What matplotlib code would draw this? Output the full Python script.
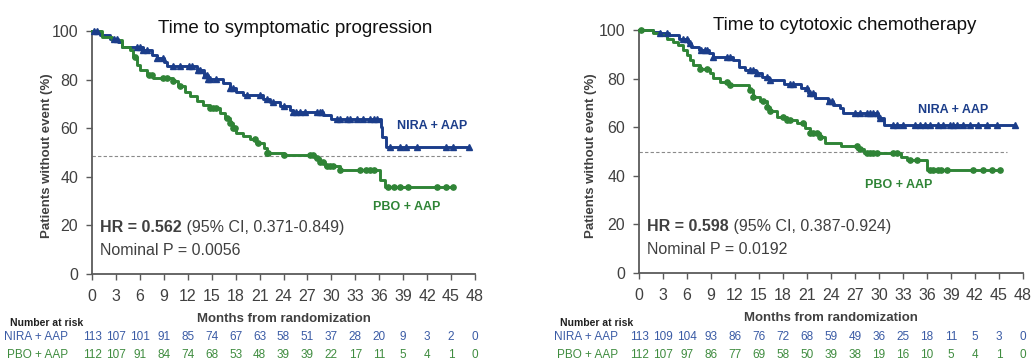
import numpy as np
import matplotlib.pyplot as plt
from matplotlib import font_manager
from matplotlib.transforms import blended_transform_factory

plt.rcParams['font.family'] = ['Liberation Sans', 'DejaVu Sans']

_names = {f.name for f in font_manager.fontManager.ttflist}
NARROW = 'Liberation Sans Narrow' if 'Liberation Sans Narrow' in _names else 'Liberation Sans'

BLUE = '#1b3d8a'
GREEN = '#2f8436'
RISK_BLUE = '#3a5ba5'
RISK_GREEN = '#3f8c3f'
GREY = '#404040'

months_ticks = list(range(0, 49, 3))

# --- Time to symptomatic progression ---
sp_nira_t = [0, 1.0, 2.2, 3.3, 3.7, 6.4, 7.5, 8.1, 9.0, 9.4, 13.2, 14.0, 14.6, 16.4, 17.3, 18.1,
             18.9, 21.4, 22.3, 23.5, 24.8, 25.2, 29.0, 29.9, 36.2, 36.4, 36.8, 47.3]
sp_nira_s = [100, 98.3, 96.9, 95.5, 93.5, 92.2, 90.1, 88.8, 87.4, 85.6, 84.0, 82.0, 80.2, 78.5, 76.5, 75.1,
             73.7, 71.9, 70.6, 69.2, 67.6, 66.5, 65.5, 63.6, 60.6, 56.5, 52.4, 52.4]
sp_nira_cens = [0.2, 0.6, 2.7, 3.1, 5.6, 6.0, 6.4, 6.9, 8.1, 8.9, 10.2, 11.0, 12.1, 12.5, 13.3, 13.5, 14.2,
                14.4, 14.6, 14.8, 15.6, 17.3, 17.7, 19.4, 21.1, 21.9, 22.7, 24.0, 25.2, 25.6, 26.1, 26.7,
                28.2, 28.6, 28.8, 30.7, 31.1, 31.9, 32.3, 33.2, 34.0, 34.8, 35.3, 35.7, 37.3, 38.6, 39.4,
                40.7, 44.4, 45.3, 47.2]
sp_pbo_t = [0, 1.2, 2.5, 3.7, 4.8, 5.2, 5.6, 6.0, 6.9, 7.7, 10.2, 10.8, 11.7, 12.3, 13.1, 13.9, 14.8,
            16.1, 16.7, 17.3, 17.7, 18.1, 18.9, 19.8, 20.6, 21.5, 21.9, 24.0, 27.9, 28.6, 29.2, 31.1,
            36.1, 36.7, 45.3]
sp_pbo_s = [100, 97.4, 96.1, 93.5, 92.2, 89.3, 86.0, 84.0, 82.0, 80.7, 79.3, 77.3, 75.1, 73.1, 71.0, 69.7,
            68.3, 66.1, 64.1, 62.2, 60.1, 58.1, 56.7, 55.4, 54.1, 52.0, 50.0, 49.0, 47.6, 46.0, 44.6, 42.6,
            38.5, 35.8, 35.8]
sp_pbo_cens = [5.4, 7.1, 7.5, 8.9, 9.4, 10.2, 11.0, 14.8, 15.2, 15.6, 16.9, 17.3, 17.7, 17.9, 20.4, 20.8,
               21.9, 22.1, 24.0, 27.3, 27.7, 28.2, 28.6, 29.0, 29.4, 29.8, 30.2, 31.1, 33.6, 34.4, 34.8,
               35.3, 37.1, 37.8, 38.6, 39.6, 43.2, 44.4, 45.3]
sp_risk_nira = [113, 107, 101, 91, 85, 74, 67, 63, 58, 51, 37, 28, 20, 9, 3, 2, 0]
sp_risk_pbo = [112, 107, 91, 84, 74, 68, 53, 48, 39, 39, 22, 17, 11, 5, 4, 1, 0]

# --- Time to cytotoxic chemotherapy ---
cc_nira_t = [0, 1.8, 2.6, 3.8, 5.0, 6.1, 6.5, 7.5, 8.8, 9.2, 11.7, 12.5, 13.3, 14.6, 15.4, 16.3, 18.1,
             20.3, 21.1, 22.0, 23.6, 24.3, 25.1, 25.5, 29.9, 30.6, 47.0]
cc_nira_s = [100, 99.3, 98.6, 97.9, 96.5, 94.8, 93.1, 91.8, 90.4, 89.0, 87.7, 84.9, 83.5, 82.2, 80.8, 79.4,
             77.8, 76.0, 74.0, 71.9, 70.6, 69.2, 67.9, 65.8, 63.8, 61.0, 61.0]
cc_nira_cens = [2.6, 3.5, 5.5, 6.0, 6.4, 7.8, 8.3, 8.5, 9.3, 11.0, 11.4, 13.9, 14.3, 14.7, 16.0, 16.4,
                18.9, 19.3, 21.0, 21.4, 21.8, 23.7, 24.1, 27.0, 27.6, 28.5, 28.9, 29.3, 29.7, 30.1, 31.8,
                32.2, 33.0, 34.5, 35.1, 35.8, 36.4, 37.4, 38.0, 38.9, 39.3, 39.7, 40.5, 41.4, 42.4, 43.5,
                44.7, 47.0]
cc_pbo_t = [0, 1.8, 2.6, 3.5, 4.3, 4.9, 5.5, 6.0, 6.4, 6.8, 7.6, 8.9, 9.3, 10.1, 11.2, 13.7, 14.3, 15.1,
            16.0, 16.4, 17.2, 18.5, 19.7, 20.8, 21.4, 22.6, 23.3, 25.2, 27.3, 28.1, 32.7, 33.5, 36.0, 45.1]
cc_pbo_s = [100, 98.6, 97.9, 96.5, 95.1, 93.8, 91.8, 89.6, 87.6, 85.5, 84.1, 82.2, 80.1, 78.7, 77.4, 75.3,
            72.6, 70.6, 68.5, 66.5, 64.4, 63.0, 61.6, 59.5, 57.5, 56.1, 53.4, 52.1, 51.0, 49.3, 47.9, 46.3,
            42.4, 42.4]
cc_pbo_cens = [0.3, 7.6, 8.5, 11.0, 11.4, 13.9, 14.3, 15.5, 16.0, 16.4, 18.0, 18.5, 18.9, 20.5, 21.4, 21.8,
               22.2, 22.6, 27.2, 27.6, 28.5, 28.9, 29.3, 29.7, 31.8, 32.2, 33.9, 34.7, 36.4, 36.7, 37.4,
               37.8, 38.5, 41.8, 43.0, 44.1, 45.1]
cc_risk_nira = [113, 109, 104, 93, 86, 76, 72, 68, 59, 49, 36, 25, 18, 11, 5, 3, 0]
cc_risk_pbo = [112, 107, 97, 86, 77, 69, 58, 50, 39, 38, 19, 16, 10, 5, 4, 1, 0]


def px(x, y):
    # pixel position -> figure fraction
    return x / 1032, 1 - y / 363


def step_value(times, surv, t):
    idx = np.searchsorted(times, t, side='right') - 1
    return np.asarray(surv)[np.clip(idx, 0, len(surv) - 1)]


def draw_km(ax, times, surv, cens, color, marker, ms):
    ax.step(times, surv, where='post', color=color, lw=2.1, clip_on=False, zorder=3)
    ax.plot(cens, step_value(times, surv, cens), ls='none', marker=marker, ms=ms,
            color=color, mec=color, clip_on=False, zorder=4)


def panel(rect, title, title_xy, nira, pbo, median_y, median_end, hr, ci, pval,
          nira_lbl_xy, pbo_lbl_xy, ylabel_x, risk_nira, risk_pbo, risk_lbl_x, nar_x):
    ax = fig.add_axes(rect)
    draw_km(ax, *nira, BLUE, '^', 4.2)
    draw_km(ax, *pbo, GREEN, 'o', 3.8)
    ax.plot([0, median_end], [median_y, median_y], ls=(0, (3, 2)), color='#8a8a8a', lw=0.8, zorder=2)

    ax.set_xlim(0, 48)
    ax.set_ylim(0, 100)
    ax.set_xticks(months_ticks)
    ax.set_yticks(range(0, 101, 20))
    for s in ('top', 'right'):
        ax.spines[s].set_visible(False)
    for s in ('left', 'bottom'):
        ax.spines[s].set_color('#5a5a5a')
        ax.spines[s].set_linewidth(1.3)
    ax.tick_params(colors='#5a5a5a', labelcolor=GREY, width=1.0, length=4, pad=6,
                   labelsize=11.5)
    ax.tick_params(axis='x', pad=7)
    for lbl in ax.get_xticklabels() + ax.get_yticklabels():
        lbl.set_family(NARROW)

    fig.text(*px(*title_xy), title, ha='center', va='baseline', fontsize=13.5, color='#111111')
    fig.text(*px(ylabel_x, 156), 'Patients without event (%)', rotation=90, ha='center', va='center',
             fontsize=9.5, fontweight='bold', color=GREY)
    ax.set_xlabel('Months from randomization', fontsize=9.5, fontweight='bold', color=GREY, labelpad=6)

    t = ax.text(1.0, 17.4, 'HR = ' + hr, fontsize=11.5, fontweight='bold', color=GREY, va='baseline')
    ax.annotate(' (95% CI, ' + ci + ')', xy=(1, 0), xycoords=t, va='bottom', fontsize=11.5, color=GREY)
    ax.text(1.0, 7.8, 'Nominal P = ' + pval, fontsize=11.5, color=GREY, va='baseline')

    fig.text(*px(*nira_lbl_xy), 'NIRA + AAP', ha='left', va='center', fontsize=9,
             fontweight='bold', color=BLUE)
    fig.text(*px(*pbo_lbl_xy), 'PBO + AAP', ha='left', va='center', fontsize=9,
             fontweight='bold', color=GREEN)

    # number-at-risk table under the axis
    tr = blended_transform_factory(ax.transData, fig.transFigure)
    fig.text(*px(nar_x, 323), 'Number at risk', ha='left', va='center', fontsize=7.5,
             fontweight='bold', color='#202020', family=NARROW)
    for y, name, counts, col in ((336.5, 'NIRA + AAP', risk_nira, RISK_BLUE),
                                 (355.5, 'PBO + AAP', risk_pbo, RISK_GREEN)):
        fig.text(*px(risk_lbl_x, y), name, ha='right', va='center', fontsize=8.5, color=col,
                 family=NARROW)
        for m, n in zip(months_ticks, counts):
            ax.text(m, px(0, y)[1], str(n), transform=tr, ha='center', va='center',
                    fontsize=8.5, color=col, family=NARROW)
    return ax


fig = plt.figure(figsize=(10.32, 3.63), dpi=100)

panel([92 / 1032, 1 - 274 / 363, 383 / 1032, 243 / 363],
      'Time to symptomatic progression', (295, 33),
      (sp_nira_t, sp_nira_s, sp_nira_cens), (sp_pbo_t, sp_pbo_s, sp_pbo_cens),
      48.6, 46.3, '0.562', '0.371-0.849', '0.0056',
      (397, 126), (373, 207), 47, sp_risk_nira, sp_risk_pbo, 68, 10)

panel([639 / 1032, 1 - 273 / 363, 384 / 1032, 243 / 363],
      'Time to cytotoxic chemotherapy', (845, 30),
      (cc_nira_t, cc_nira_s, cc_nira_cens), (cc_pbo_t, cc_pbo_s, cc_pbo_cens),
      50, 46, '0.598', '0.387-0.924', '0.0192',
      (918, 110), (865, 185), 591, cc_risk_nira, cc_risk_pbo, 618, 560)

fig.savefig('out.png', dpi=100)
